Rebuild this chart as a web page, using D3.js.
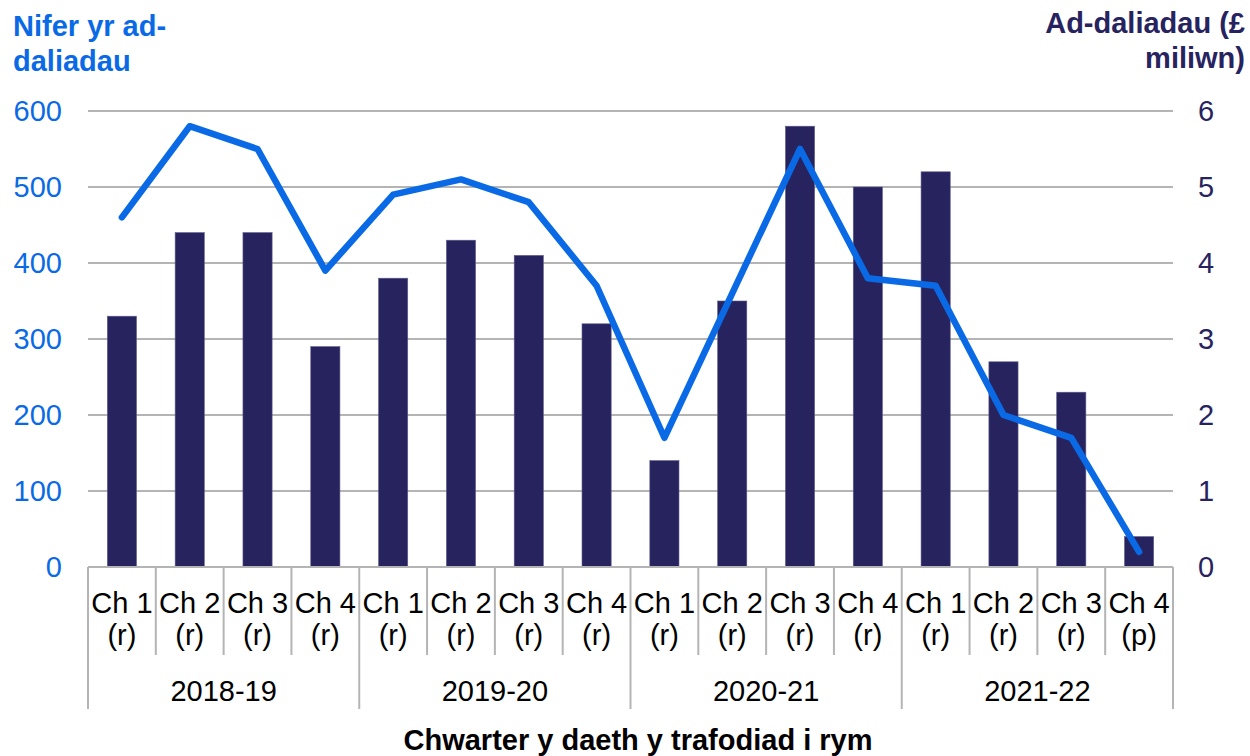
<!DOCTYPE html>
<html>
<head>
<meta charset="utf-8">
<script src="https://cdn.jsdelivr.net/npm/d3@7"></script>
<style>
  body { margin: 0; background: #fff; }
  text { font-family: "Liberation Sans", Arial, sans-serif; }
</style>
</head>
<body>
<svg id="chart" width="1250" height="756"></svg>
<script>
// data
var years = ["2018-19", "2019-20", "2020-21", "2021-22"];
var quarters = ["Ch 1", "Ch 2", "Ch 3", "Ch 4"];
var quarterStatus = ["(r)", "(r)", "(r)", "(r)", "(r)", "(r)", "(r)", "(r)",
                     "(r)", "(r)", "(r)", "(r)", "(r)", "(r)", "(r)", "(p)"];
var paymentsMillions = [3.3, 4.4, 4.4, 2.9, 3.8, 4.3, 4.1, 3.2,
                        1.4, 3.5, 5.8, 5.0, 5.2, 2.7, 2.3, 0.4];
var numberOfRepayments = [460, 580, 550, 390, 490, 510, 480, 370,
                          170, 360, 550, 380, 370, 200, 170, 20];
var leftTicks = [0, 100, 200, 300, 400, 500, 600];
var rightTicks = [0, 1, 2, 3, 4, 5, 6];

var blue = "#0a6ae6";
var navy = "#27235f";
var grid = "#b4b4b4";

var x0 = 88, x1 = 1173, yTop = 111, yBase = 567;

var cats = d3.range(16);
var dataset = cats.map(function(i){
	return {i: i, q: quarters[i % 4], s: quarterStatus[i], year: years[Math.floor(i/4)],
	        pay: paymentsMillions[i], num: numberOfRepayments[i]};
});

var xscale = d3.scaleBand().domain(cats).range([x0, x1]).padding(0);
var yLeft = d3.scaleLinear().domain([0, 600]).range([yBase, yTop]);
var yRight = d3.scaleLinear().domain([0, 6]).range([yBase, yTop]);
var bar_w = xscale.bandwidth() * 0.43;

var svg = d3.select("#chart");

// gridlines
svg.append("g").selectAll("line")
	.data(leftTicks.slice(1))
	.enter().append("line")
		.attr("x1", x0).attr("x2", x1)
		.attr("y1", function(d){ return yLeft(d); })
		.attr("y2", function(d){ return yLeft(d); })
		.attr("stroke", grid).attr("stroke-width", 2);

// bars (right axis)
svg.append("g").selectAll("rect")
	.data(dataset)
	.enter().append("rect")
		.attr("x", function(d){ return xscale(d.i) + (xscale.bandwidth() - bar_w) / 2; })
		.attr("width", bar_w)
		.attr("y", function(d){ return yRight(d.pay); })
		.attr("height", function(d){ return yBase - yRight(d.pay); })
		.attr("fill", navy)
		.attr("stroke", "#5d5b8c")
		.attr("stroke-width", 0.6);

// x axis baseline and separators
svg.append("line")
	.attr("x1", x0).attr("x2", x1).attr("y1", yBase).attr("y2", yBase)
	.attr("stroke", grid).attr("stroke-width", 2);

svg.append("g").selectAll("line")
	.data(d3.range(17))
	.enter().append("line")
		.attr("x1", function(d){ return d < 16 ? xscale(d) : x1; })
		.attr("x2", function(d){ return d < 16 ? xscale(d) : x1; })
		.attr("y1", yBase)
		.attr("y2", function(d){ return d % 4 == 0 ? 709 : 655; })
		.attr("stroke", grid).attr("stroke-width", 2);

// line (left axis)
var line = d3.line()
	.x(function(d){ return xscale(d.i) + xscale.bandwidth() / 2; })
	.y(function(d){ return yLeft(d.num); });

svg.append("path")
	.attr("d", line(dataset))
	.attr("fill", "none")
	.attr("stroke", blue)
	.attr("stroke-width", 6.5)
	.attr("stroke-linejoin", "round")
	.attr("stroke-linecap", "round");

// left axis labels
svg.append("g").selectAll("text")
	.data(leftTicks)
	.enter().append("text")
		.attr("x", 62)
		.attr("y", function(d){ return yLeft(d); })
		.attr("dy", "0.35em")
		.attr("text-anchor", "end")
		.attr("font-size", "29px")
		.attr("fill", blue)
		.text(function(d){ return d; });

// right axis labels
svg.append("g").selectAll("text")
	.data(rightTicks)
	.enter().append("text")
		.attr("x", 1198)
		.attr("y", function(d){ return yRight(d); })
		.attr("dy", "0.35em")
		.attr("text-anchor", "start")
		.attr("font-size", "29px")
		.attr("fill", navy)
		.text(function(d){ return d; });

// category labels
var catLabels = svg.append("g").selectAll("text")
	.data(dataset)
	.enter().append("text")
		.attr("text-anchor", "middle")
		.attr("font-size", "29px")
		.attr("fill", "#000");
catLabels.append("tspan")
	.attr("x", function(d){ return xscale(d.i) + xscale.bandwidth() / 2; })
	.attr("y", 613)
	.text(function(d){ return d.q; });
catLabels.append("tspan")
	.attr("x", function(d){ return xscale(d.i) + xscale.bandwidth() / 2; })
	.attr("y", 645)
	.text(function(d){ return d.s; });

// year labels
svg.append("g").selectAll("text")
	.data(years)
	.enter().append("text")
		.attr("x", function(d, i){ return (xscale(i*4) + (i*4+4 < 16 ? xscale(i*4+4) : x1)) / 2; })
		.attr("y", 701)
		.attr("text-anchor", "middle")
		.attr("font-size", "29px")
		.attr("fill", "#000")
		.text(function(d){ return d; });

// axis titles
var leftTitle = svg.append("text")
	.attr("font-size", "29px").attr("font-weight", "bold").attr("fill", blue);
leftTitle.append("tspan").attr("x", 13).attr("y", 36).text("Nifer yr ad-");
leftTitle.append("tspan").attr("x", 13).attr("y", 71).text("daliadau");

var rightTitle = svg.append("text")
	.attr("font-size", "29px").attr("font-weight", "bold").attr("fill", navy)
	.attr("text-anchor", "end");
rightTitle.append("tspan").attr("x", 1245).attr("y", 33).text("Ad-daliadau (£");
rightTitle.append("tspan").attr("x", 1245).attr("y", 68).text("miliwn)");

svg.append("text")
	.attr("x", 638)
	.attr("y", 750)
	.attr("text-anchor", "middle")
	.attr("font-size", "29px")
	.attr("font-weight", "bold")
	.attr("fill", "#000")
	.text("Chwarter y daeth y trafodiad i rym");
</script>
</body>
</html>
